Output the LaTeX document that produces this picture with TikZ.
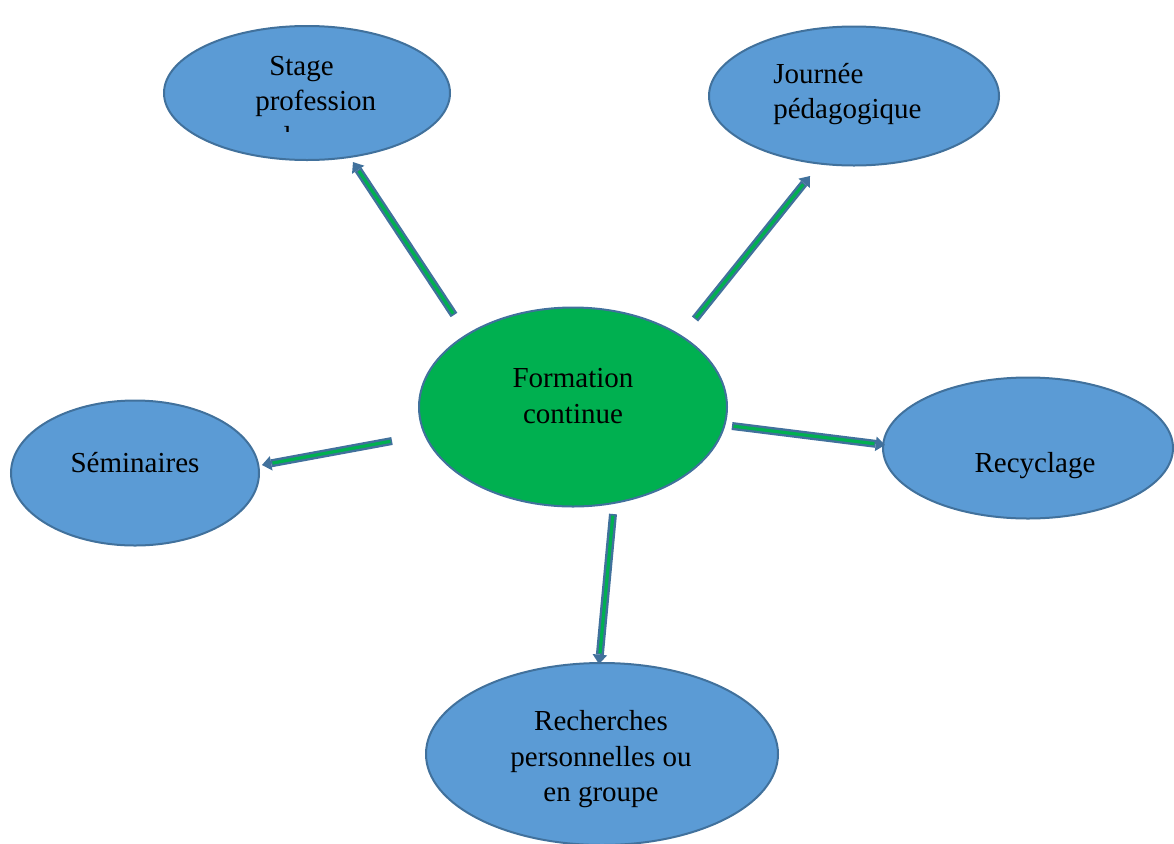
\documentclass[tikz,border=0pt]{standalone}
\usepackage{fontspec}
\setmainfont{Liberation Serif}
\usetikzlibrary{arrows.meta,shapes.geometric}
\definecolor{bubblefill}{HTML}{5B9BD5}
\definecolor{bubbleline}{HTML}{41719C}
\definecolor{centerfill}{HTML}{00B050}
\definecolor{arrowline}{HTML}{41719C}
\begin{document}
\begin{tikzpicture}[x=0.75pt,y=-0.75pt,
  bubble/.style={ellipse, draw=bubbleline, fill=bubblefill, line width=1.5pt, inner sep=0pt},
  centre/.style={ellipse, draw=bubbleline, fill=centerfill, line width=1.5pt, inner sep=0pt},
  txt/.style={font=\fontsize{21.75pt}{27pt}\selectfont, inner sep=0pt, text=black},
  blockarrow/.style={draw=arrowline, line width=6pt,
    -{Triangle[length=7pt, width=11pt, line width=0pt]},
    postaction={draw=centerfill, line width=2.4pt, -, shorten >=8pt, shorten <=1.2pt}}
]
\useasboundingbox (0,0) rectangle (1174,843);

% ellipses
\node[bubble, minimum width=214.5pt, minimum height=100.5pt] (stage) at (307,93) {};
\node[bubble, minimum width=217.5pt, minimum height=104.25pt] (journee) at (854,96) {};
\node[centre, minimum width=231pt, minimum height=149.25pt] (formation) at (573,407) {};
\node[bubble, minimum width=186pt, minimum height=108.75pt] (seminaires) at (135,473) {};
\node[bubble, minimum width=217.5pt, minimum height=105.75pt] (recyclage) at (1028,448) {};
\node[bubble, minimum width=264pt, minimum height=136.5pt] (recherches) at (602,754) {};

% texts
\node[txt, anchor=base west] (stage1) at (269,75) {Stage};
\node[txt, anchor=base west] (stage2) at (255,110) {profession};
\begin{scope}
  \clip (200,60) rectangle (420,131);
  \node[txt, anchor=base west] (stage3) at (256,146) {nel};
\end{scope}
\node[txt, anchor=base west] (journee1) at (773,83) {Journée};
\node[txt, anchor=base west] (journee2) at (773,118) {pédagogique};
\node[txt, anchor=base] (form1) at (573,387) {Formation};
\node[txt, anchor=base] (form2) at (573,423) {continue};
\node[txt, anchor=base] (sem) at (135,472) {Séminaires};
\node[txt, anchor=base] (rec) at (1035,472) {Recyclage};
\node[txt, anchor=base] (rech1) at (601,730) {Recherches};
\node[txt, anchor=base] (rech2) at (601,766) {personnelles ou};
\node[txt, anchor=base] (rech3) at (601,801) {en groupe};

% arrow end points
\coordinate (a1s) at (454,315);
\coordinate (a1e) at (353,162);
\coordinate (a2s) at (695,319);
\coordinate (a2e) at (810,176);
\coordinate (a3s) at (392,441);
\coordinate (a3e) at (262,465);
\coordinate (a4s) at (732,426);
\coordinate (a4e) at (885,445);
\coordinate (a5s) at (613,514);
\coordinate (a5e) at (599,664);

\draw[blockarrow] (a1s) -- (a1e);
\draw[blockarrow] (a2s) -- (a2e);
\draw[blockarrow] (a3s) -- (a3e);
\draw[blockarrow] (a4s) -- (a4e);
\draw[blockarrow] (a5s) -- (a5e);
\end{tikzpicture}
\end{document}
